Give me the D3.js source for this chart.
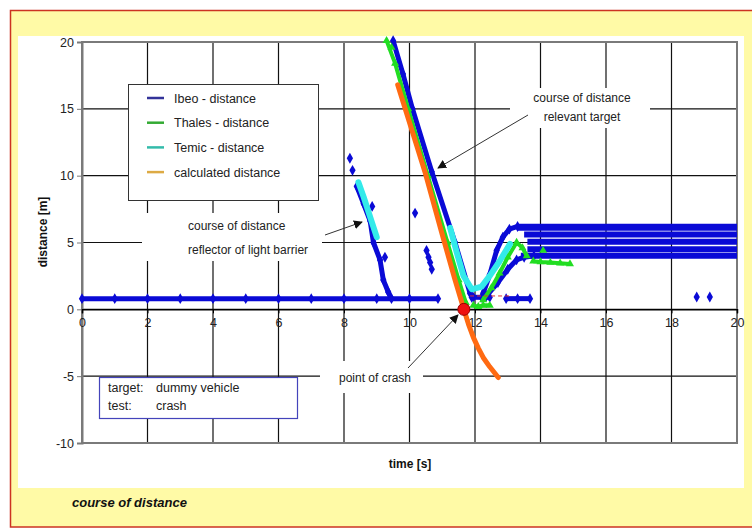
<!DOCTYPE html>
<html lang="en">
<head>
    <meta charset="UTF-8">
    <title>course of distance</title>
    <script src="https://d3js.org/d3.v7.min.js"></script>
    <style>
        body { margin: 0; background: #ffffff; }
        svg { display: block; font-family: "Liberation Sans", Arial, sans-serif; }
    </style>
</head>
<body>
    <div id="chart"></div>
    <script>
        // ticks
        const xTicks = [0, 2, 4, 6, 8, 10, 12, 14, 16, 18, 20];
        const yTicks = [-10, -5, 0, 5, 10, 15, 20];

        // Ibeo (blue diamonds), segments [time, distance]
        const ibeoBase1 = [[0, 0.8], [1, 0.8], [2, 0.8], [3, 0.8], [4, 0.8], [5, 0.8], [6, 0.8], [7, 0.8], [8, 0.8], [9, 0.8], [10, 0.8], [10.87, 0.8]];
        const ibeoReflector = [[8.39, 9.2], [8.6, 7.9], [8.8, 6.6], [8.9, 5.0], [9.1, 3.7], [9.2, 2.2], [9.35, 1.3], [9.45, 0.8]];
        const ibeoDescent = [[9.5, 20.1], [9.8, 17.6], [10.09, 15], [10.68, 10.3], [11.39, 5.0], [11.85, 1.2], [11.95, 0.9]];
        const ibeoBase2 = [[11.9, 0.9], [12.2, 0.9], [12.45, 0.9]];
        const ibeoBase3 = [[12.95, 0.8], [13.3, 0.8], [13.68, 0.8]];
        const ibeoRiseUpper = [[12.25, 1.2], [12.45, 2.6], [12.66, 4.4], [12.85, 5.4], [13.05, 6.0], [13.3, 6.2]];
        const ibeoRiseLower = [[12.35, 1.0], [12.7, 2.0], [13.0, 3.0], [13.27, 3.7], [13.5, 3.9], [13.8, 4.0]];
        const ibeoBand1 = [[13.3, 6.15], [20, 6.15]];
        const ibeoBand2 = [[13.5, 5.6], [20, 5.6]];
        const ibeoBand3 = [[13.6, 5.05], [20, 5.05]];
        const ibeoBand4 = [[13.6, 4.5], [20, 4.5]];
        const ibeoBand5 = [[13.4, 4.0], [20, 4.0]];
        const ibeoDots = [[8.18, 11.3], [8.26, 10.4], [8.86, 7.7], [9.25, 3.9], [10.17, 7.2], [10.52, 4.4], [10.58, 3.9], [10.63, 3.5], [10.68, 3.0], [18.77, 0.92], [19.17, 0.92]];

        // Thales (green triangles)
        const thalesDescent = [[9.3, 20.1], [9.56, 18.4], [9.96, 15], [10.56, 10], [11.16, 5], [11.5, 2.2], [11.72, 0.5]];
        const thalesBottom = [[11.95, 0.3], [12.1, 0.2], [12.25, 0.3], [12.45, 0.3]];
        const thalesRise = [[12.25, 0.7], [12.5, 1.6], [12.75, 2.7], [13.0, 3.9], [13.27, 5.0], [13.45, 4.6], [13.58, 4.0]];
        const thalesTail = [[13.78, 3.6], [14.0, 3.55], [14.3, 3.5], [14.6, 3.45], [14.9, 3.4]];
        const thalesDots = [[14.08, 4.4], [9.45, 19.6]];

        // Temic (cyan)
        const temicReflector = [[8.44, 9.5], [8.6, 8.4], [8.8, 6.9], [9.0, 5.4]];
        const temicTarget = [[11.24, 6.1], [11.45, 4.2], [11.65, 2.5], [11.9, 1.5], [12.2, 1.7], [12.45, 2.5], [12.75, 3.6], [13.07, 4.9]];

        // calculated distance (orange)
        const calculated = [[9.64, 16.8], [10.47, 10.3], [11.0, 5.6], [11.39, 2.2], [11.66, 0], [11.8, -1.1], [11.95, -2.1], [12.1, -2.9], [12.25, -3.6], [12.45, -4.3], [12.71, -5.1]];

        // crash point and the short red dashed line
        const crashPoint = [11.66, 0];
        const crashDash = [[11.85, 1.0], [13.1, 1.0]];

        const legendNames = ["Ibeo - distance", "Thales - distance", "Temic - distance", "calculated distance"];
        const legendColors = ["#333399", "#33aa33", "#33bbaa", "#ddaa44"];

        const width = 752, height = 529;

        const svg = d3.select("#chart")
            .append("svg")
            .attr("width", width)
            .attr("height", height);

        // yellow frame and white panel
        svg.append("rect")
            .attr("x", 10.5).attr("y", 10.5)
            .attr("width", 760).attr("height", 516.5)
            .attr("fill", "#fffaa6")
            .attr("stroke", "#cc3322")
            .attr("stroke-width", 1.5);

        svg.append("rect")
            .attr("x", 18).attr("y", 36)
            .attr("width", 726).attr("height", 452)
            .attr("fill", "#ffffff");

        const x = d3.scaleLinear().domain([0, 20]).range([82, 737]);
        const y = d3.scaleLinear().domain([-10, 20]).range([443, 42]);

        // grid
        const grid = svg.append("g");
        grid.selectAll(".vgrid")
            .data(xTicks.slice(1, -1))
            .enter()
            .append("line")
            .attr("x1", d => x(d)).attr("x2", d => x(d))
            .attr("y1", y(20)).attr("y2", y(-10))
            .attr("stroke", "#111")
            .attr("stroke-width", 1.2);
        grid.selectAll(".hgrid")
            .data(yTicks.slice(1, -1))
            .enter()
            .append("line")
            .attr("x1", x(0)).attr("x2", x(20))
            .attr("y1", d => y(d)).attr("y2", d => y(d))
            .attr("stroke", "#111")
            .attr("stroke-width", 1.2);

        // frame
        svg.append("rect")
            .attr("x", x(0)).attr("y", y(20))
            .attr("width", x(20) - x(0)).attr("height", y(-10) - y(20))
            .attr("fill", "none")
            .attr("stroke", "#7a7a7a")
            .attr("stroke-width", 2);

        // y axis
        const yAxis = svg.append("g")
            .attr("transform", "translate(" + x(0) + ",0)")
            .call(d3.axisLeft(y).tickValues(yTicks).tickFormat(d => String(d)).tickSize(5).tickPadding(3));
        yAxis.select(".domain").attr("stroke", "#7a7a7a").attr("stroke-width", 2);
        yAxis.selectAll(".tick line").attr("stroke", "#7a7a7a");
        yAxis.selectAll("text")
            .attr("font-family", "Liberation Sans, Arial, sans-serif")
            .attr("font-size", "12.5px")
            .attr("fill", "#222");

        // x axis, placed on the zero line
        const xAxis = svg.append("g")
            .attr("transform", "translate(0," + y(0) + ")")
            .call(d3.axisBottom(x).tickValues(xTicks).tickFormat(d => String(d)).tickSize(4).tickPadding(5));
        xAxis.select(".domain").attr("stroke", "#000").attr("stroke-width", 1.5);
        xAxis.selectAll(".tick line").attr("stroke", "#000");
        xAxis.selectAll("text")
            .attr("font-family", "Liberation Sans, Arial, sans-serif")
            .attr("font-size", "12.5px")
            .attr("fill", "#222");

        // white boxes behind annotations
        const boxes = [[142, 213, 180, 48], [510, 88, 140, 40], [320, 361, 103, 32]];
        boxes.forEach(b => {
            svg.append("rect")
                .attr("x", b[0]).attr("y", b[1])
                .attr("width", b[2]).attr("height", b[3])
                .attr("fill", "#fff");
        });

        // legend
        const legend = svg.append("g");
        legend.append("rect")
            .attr("x", 128.5).attr("y", 84.5)
            .attr("width", 190).attr("height", 116)
            .attr("fill", "#fff")
            .attr("stroke", "#333")
            .attr("stroke-width", 1);
        legendNames.forEach((name, i) => {
            const cy = 98 + i * 24.7;
            legend.append("line")
                .attr("x1", 147).attr("x2", 164)
                .attr("y1", cy).attr("y2", cy)
                .attr("stroke", legendColors[i])
                .attr("stroke-width", 2.5);
            legend.append("text")
                .attr("x", 174).attr("y", cy + 4.5)
                .attr("font-size", "12.5px")
                .attr("fill", "#222")
                .text(name);
        });

        // target / test box
        const info = svg.append("g");
        info.append("rect")
            .attr("x", 99.5).attr("y", 377.5)
            .attr("width", 198).attr("height", 41)
            .attr("fill", "#fff")
            .attr("stroke", "#4444bb")
            .attr("stroke-width", 1.2);
        [["target:", "dummy vehicle", 392], ["test:", "crash", 410]].forEach(r => {
            info.append("text").attr("x", 108).attr("y", r[2])
                .attr("font-size", "12.5px").attr("fill", "#222").text(r[0]);
            info.append("text").attr("x", 156).attr("y", r[2])
                .attr("font-size", "12.5px").attr("fill", "#222").text(r[1]);
        });

        const line = d3.line().x(d => x(d[0])).y(d => y(d[1]));
        const diamond = d3.symbol().type(d3.symbolDiamond).size(34);
        const triangle = d3.symbol().type(d3.symbolTriangle).size(28);

        function drawPath(pts, color, w) {
            svg.append("path")
                .attr("d", line(pts))
                .attr("fill", "none")
                .attr("stroke", color)
                .attr("stroke-width", w)
                .attr("stroke-linejoin", "round");
        }
        function drawMarks(pts, shape, color) {
            svg.append("g").selectAll("path")
                .data(pts)
                .enter()
                .append("path")
                .attr("d", shape)
                .attr("transform", d => "translate(" + x(d[0]) + "," + y(d[1]) + ")")
                .attr("fill", color);
        }

        // Ibeo
        const blue = "#0a0ad6";
        const ibeoSegs = [ibeoBase1, ibeoReflector, ibeoDescent, ibeoBase2, ibeoBase3, ibeoRiseUpper, ibeoRiseLower];
        ibeoSegs.forEach(s => { drawPath(s, blue, 5); drawMarks(s, diamond, blue); });
        [ibeoBand1, ibeoBand2, ibeoBand3, ibeoBand4, ibeoBand5].forEach((s, i) => drawPath(s, blue, i === 0 ? 7 : 6));
        drawMarks(ibeoDots, diamond, blue);

        // Thales
        const green = "#22dd22";
        [thalesDescent, thalesBottom, thalesRise, thalesTail].forEach(s => { drawPath(s, green, 4); drawMarks(s, triangle, green); });
        drawMarks(thalesDots, triangle, green);

        // Temic
        const cyan = "#33eaea";
        [temicReflector, temicTarget].forEach(s => {
            svg.append("path")
                .attr("d", line(s))
                .attr("fill", "none")
                .attr("stroke", cyan)
                .attr("stroke-width", 6)
                .attr("stroke-linecap", "round")
                .attr("stroke-linejoin", "round");
        });

        // calculated
        svg.append("path")
            .attr("d", line(calculated))
            .attr("fill", "none")
            .attr("stroke", "#ff6a12")
            .attr("stroke-width", 5)
            .attr("stroke-linecap", "round")
            .attr("stroke-linejoin", "round");

        // red dashed line and crash point
        svg.append("path")
            .attr("d", line(crashDash))
            .attr("stroke", "#dd3333")
            .attr("stroke-width", 1)
            .attr("stroke-dasharray", "4,3");
        svg.append("circle")
            .attr("cx", x(crashPoint[0])).attr("cy", y(crashPoint[1]))
            .attr("r", 6)
            .attr("fill", "#ee1111")
            .attr("stroke", "#990000")
            .attr("stroke-width", 1);

        // annotations
        svg.append("defs").append("marker")
            .attr("id", "arrow")
            .attr("viewBox", "0 0 10 10")
            .attr("refX", 9).attr("refY", 5)
            .attr("markerWidth", 9).attr("markerHeight", 9)
            .attr("markerUnits", "userSpaceOnUse")
            .attr("orient", "auto")
            .append("path")
            .attr("d", "M0,0 L10,5 L0,10 Z")
            .attr("fill", "#111");

        const arrows = [[325, 235, 362, 222], [528, 115, 438, 168], [408, 368, 458, 315]];
        arrows.forEach(a => {
            svg.append("line")
                .attr("x1", a[0]).attr("y1", a[1])
                .attr("x2", a[2]).attr("y2", a[3])
                .attr("stroke", "#333")
                .attr("stroke-width", 1)
                .attr("marker-end", "url(#arrow)");
        });

        const notes = [
            ["course of distance", 188, 230, "start"],
            ["reflector of light barrier", 188, 254, "start"],
            ["course of distance", 582, 102, "middle"],
            ["relevant target", 582, 121, "middle"],
            ["point of crash", 375, 382, "middle"]
        ];
        notes.forEach(n => {
            svg.append("text")
                .attr("x", n[1]).attr("y", n[2])
                .attr("text-anchor", n[3])
                .attr("font-size", "12px")
                .attr("fill", "#222")
                .text(n[0]);
        });

        // axis titles
        svg.append("text")
            .attr("transform", "translate(47,232) rotate(-90)")
            .attr("text-anchor", "middle")
            .attr("font-size", "12px")
            .attr("font-weight", "bold")
            .attr("fill", "#111")
            .text("distance [m]");
        svg.append("text")
            .attr("x", 410).attr("y", 468)
            .attr("text-anchor", "middle")
            .attr("font-size", "12px")
            .attr("font-weight", "bold")
            .attr("fill", "#111")
            .text("time [s]");

        // caption
        svg.append("text")
            .attr("x", 72).attr("y", 507)
            .attr("font-size", "13px")
            .attr("font-weight", "bold")
            .attr("font-style", "italic")
            .attr("fill", "#111")
            .text("course of distance");
    </script>
</body>
</html>
